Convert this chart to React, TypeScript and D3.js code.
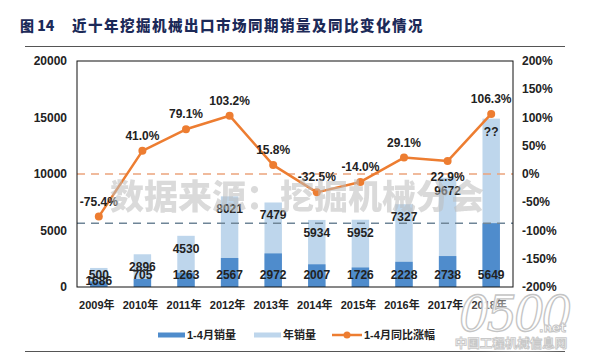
import React, {useEffect, useRef} from 'react';
import * as d3 from 'd3';

// chart data
const years: string[] = ["2009年", "2010年", "2011年", "2012年", "2013年", "2014年", "2015年", "2016年", "2017年", "2018年"];
const janAprSales: number[] = [500, 705, 1263, 2567, 2972, 2007, 1726, 2228, 2738, 5649];
// 2018 full year not known yet ("??"), bar height
const annualSales: number[] = [1686, 2896, 4530, 8021, 7479, 5934, 5952, 7327, 9672, 14900];
const annualLabels: string[] = ["1686", "2896", "4530", "8021", "7479", "5934", "5952", "7327", "9672", "??"];
const yoyGrowth: number[] = [-75.4, 41.0, 79.1, 103.2, 15.8, -32.5, -14.0, 29.1, 22.9, 106.3];
const leftTicks: number[] = [0, 5000, 10000, 15000, 20000];
const rightTicks: number[] = [-200, -150, -100, -50, 0, 50, 100, 150, 200];
const seriesNames: string[] = ["1-4月销量", "年销量", "1-4月同比涨幅"];
const titleNo = "图 14";
const titleText = "近十年挖掘机械出口市场同期销量及同比变化情况";
const sourceNote = "数据来源：挖掘机械分会";

const App = () => {
  const ref = useRef<SVGSVGElement | null>(null);

  useEffect(() => {
    drawChart();
    return () => {
      if (ref.current) d3.select(ref.current).selectAll("*").remove();
    };
  }, []);

  const drawChart = () => {
    const width = 590;
    const height = 362;
    const plot = {left: 77, right: 513, top: 61, bottom: 287};

    const darkBlue = "#4f8ccc";
    const lightBlue = "#bed6ec";
    const orange = "#ed7d31";
    const numFont = "'Liberation Sans', Arial, sans-serif";
    const cjkFont = "'Liberation Sans', 'Noto Sans CJK SC', sans-serif";

    const svg = d3.select(ref.current)
      .attr("width", width)
      .attr("height", height);

    svg.append("rect").attr("width", width).attr("height", height).attr("fill", "#fff");

    // blur for the site watermark glow
    svg.append("defs").append("filter")
      .attr("id", "glow").attr("x", "-30%").attr("y", "-30%").attr("width", "160%").attr("height", "160%")
      .append("feGaussianBlur").attr("stdDeviation", 6);

    // title + rules
    svg.append("text")
      .attr("x", 20).attr("y", 31)
      .attr("font-family", "'Noto Sans CJK SC', sans-serif")
      .attr("font-size", 14).attr("font-weight", 900)
      .attr("fill", "#1c2a58")
      .text(titleNo);
    svg.append("text")
      .attr("x", 72).attr("y", 31)
      .attr("font-family", "'Noto Sans CJK SC', sans-serif")
      .attr("font-size", 14.5).attr("font-weight", 900)
      .attr("letter-spacing", 1.5)
      .attr("fill", "#1c2a58")
      .text(titleText);
    svg.append("line").attr("x1", 25).attr("x2", 565).attr("y1", 46.5).attr("y2", 46.5)
      .attr("stroke", "#555").attr("stroke-width", 1);
    svg.append("line").attr("x1", 25).attr("x2", 565).attr("y1", 351.5).attr("y2", 351.5)
      .attr("stroke", "#555").attr("stroke-width", 1);

    // scales
    const x = d3.scaleBand<string>()
      .domain(years)
      .range([plot.left, plot.right])
      .paddingInner(0.6)
      .paddingOuter(0.3);
    const yLeft = d3.scaleLinear().domain([0, 20000]).range([plot.bottom, plot.top]);
    const yRight = d3.scaleLinear().domain([-200, 200]).range([plot.bottom, plot.top]);
    const cx = (d: string) => (x(d) as number) + x.bandwidth() / 2;

    const g = svg.append("g");

    // annual bars behind, Jan-Apr bars in front
    g.selectAll(".annual")
      .data(years)
      .enter().append("rect")
      .attr("class", "annual")
      .attr("x", d => x(d) as number)
      .attr("width", x.bandwidth())
      .attr("y", (d, i) => yLeft(annualSales[i]))
      .attr("height", (d, i) => yLeft(0) - yLeft(annualSales[i]))
      .attr("fill", lightBlue);

    g.selectAll(".janapr")
      .data(years)
      .enter().append("rect")
      .attr("class", "janapr")
      .attr("x", d => x(d) as number)
      .attr("width", x.bandwidth())
      .attr("y", (d, i) => yLeft(janAprSales[i]))
      .attr("height", (d, i) => yLeft(0) - yLeft(janAprSales[i]))
      .attr("fill", darkBlue);

    // reference lines (0% and 2018 Jan-Apr level)
    g.append("line")
      .attr("x1", plot.left).attr("x2", plot.right)
      .attr("y1", yRight(0)).attr("y2", yRight(0))
      .attr("stroke", "#eba47c").attr("stroke-width", 1.5)
      .attr("stroke-dasharray", "8,6");
    g.append("line")
      .attr("x1", plot.left).attr("x2", plot.right)
      .attr("y1", yLeft(janAprSales[9])).attr("y2", yLeft(janAprSales[9]))
      .attr("stroke", "#6f8597").attr("stroke-width", 1.5)
      .attr("stroke-dasharray", "8,6");

    // plot frame
    g.append("rect")
      .attr("x", plot.left).attr("y", plot.top)
      .attr("width", plot.right - plot.left).attr("height", plot.bottom - plot.top)
      .attr("fill", "none").attr("stroke", "#111").attr("stroke-width", 1);

    // bar value labels
    g.selectAll(".annualLabel")
      .data(years)
      .enter().append("text")
      .attr("x", d => cx(d))
      .attr("y", (d, i) => yLeft(annualSales[i]) + 17)
      .attr("text-anchor", "middle")
      .attr("font-family", numFont).attr("font-size", 12).attr("font-weight", "bold")
      .attr("fill", "#222")
      .text((d, i) => annualLabels[i]);

    g.selectAll(".janAprLabel")
      .data(years)
      .enter().append("text")
      .attr("x", d => cx(d))
      .attr("y", yLeft(0) - 8)
      .attr("text-anchor", "middle")
      .attr("font-family", numFont).attr("font-size", 12).attr("font-weight", "bold")
      .attr("fill", "#222")
      .text((d, i) => String(janAprSales[i]));

    // watermark from the source
    svg.append("text")
      .attr("x", 297).attr("y", 209)
      .attr("text-anchor", "middle")
      .attr("font-family", "'Noto Sans CJK SC', sans-serif")
      .attr("font-size", 34).attr("font-weight", 900)
      .attr("fill", "#bdbdbd").attr("opacity", 0.55)
      .text(sourceNote);

    // growth line
    const line = d3.line<number>()
      .x((d, i) => cx(years[i]))
      .y(d => yRight(d));
    g.append("path")
      .datum(yoyGrowth)
      .attr("d", line)
      .attr("fill", "none")
      .attr("stroke", orange)
      .attr("stroke-width", 2.5)
      .attr("stroke-linejoin", "round");
    g.selectAll(".dot")
      .data(yoyGrowth)
      .enter().append("circle")
      .attr("cx", (d, i) => cx(years[i]))
      .attr("cy", d => yRight(d))
      .attr("r", 4)
      .attr("fill", orange);

    const labelBelow = new Set(["2017年"]);
    g.selectAll(".growthLabel")
      .data(yoyGrowth)
      .enter().append("text")
      .attr("x", (d, i) => cx(years[i]))
      .attr("y", (d, i) => labelBelow.has(years[i]) ? yRight(d) + 20 : yRight(d) - 11)
      .attr("text-anchor", "middle")
      .attr("font-family", numFont).attr("font-size", 12).attr("font-weight", "bold")
      .attr("fill", "#222")
      .text(d => d.toFixed(1) + "%");

    // axes labels (no tick marks in the original)
    svg.selectAll(".lt")
      .data(leftTicks)
      .enter().append("text")
      .attr("x", 67)
      .attr("y", d => yLeft(d) + 4)
      .attr("text-anchor", "end")
      .attr("font-family", numFont).attr("font-size", 12).attr("font-weight", "bold")
      .attr("fill", "#222")
      .text(d => String(d));

    svg.selectAll(".rt")
      .data(rightTicks)
      .enter().append("text")
      .attr("x", 522)
      .attr("y", d => yRight(d) + 4)
      .attr("font-family", numFont).attr("font-size", 12).attr("font-weight", "bold")
      .attr("fill", "#222")
      .text(d => d + "%");

    svg.selectAll(".xt")
      .data(years)
      .enter().append("text")
      .attr("x", d => cx(d) - 2)
      .attr("y", 309)
      .attr("text-anchor", "middle")
      .attr("font-family", cjkFont).attr("font-size", 11).attr("font-weight", "bold")
      .attr("fill", "#222")
      .text(d => d);

    // legend
    const lg = svg.append("g").attr("font-family", cjkFont).attr("font-size", 11)
      .attr("font-weight", "bold").attr("fill", "#222");
    lg.append("rect").attr("x", 158).attr("y", 332.5).attr("width", 27).attr("height", 5).attr("fill", darkBlue);
    lg.append("text").attr("x", 187).attr("y", 339).text(seriesNames[0]);
    lg.append("rect").attr("x", 254).attr("y", 332.5).attr("width", 27).attr("height", 5).attr("fill", lightBlue);
    lg.append("text").attr("x", 283).attr("y", 339).text(seriesNames[1]);
    lg.append("line").attr("x1", 332).attr("x2", 362).attr("y1", 335).attr("y2", 335)
      .attr("stroke", orange).attr("stroke-width", 2.5);
    lg.append("circle").attr("cx", 347).attr("cy", 335).attr("r", 3.5).attr("fill", orange);
    lg.append("text").attr("x", 364).attr("y", 339).text(seriesNames[2]);

    // site watermark, bottom right
    const wm = svg.append("g");
    wm.append("ellipse")
      .attr("cx", 522).attr("cy", 324).attr("rx", 55).attr("ry", 28)
      .attr("fill", "#fff").attr("opacity", 0.55)
      .attr("filter", "url(#glow)");
    wm.append("text")
      .attr("x", 514).attr("y", 331)
      .attr("text-anchor", "middle")
      .attr("font-family", "'DejaVu Serif', serif").attr("font-style", "italic")
      .attr("font-size", 48)
      .attr("letter-spacing", -3)
      .attr("fill", "#fff").attr("fill-opacity", 0.9)
      .attr("stroke", "#c4c4c4").attr("stroke-width", 1.3)
      .text("0500");
    wm.append("text")
      .attr("x", 566).attr("y", 332)
      .attr("text-anchor", "end")
      .attr("font-family", "'DejaVu Sans', sans-serif").attr("font-weight", "bold")
      .attr("font-size", 12)
      .attr("fill", "#fff").attr("stroke", "#c4c4c4").attr("stroke-width", 0.9)
      .text(".net");
    wm.append("text")
      .attr("x", 511).attr("y", 348)
      .attr("text-anchor", "middle")
      .attr("font-family", "'Noto Sans CJK SC', sans-serif").attr("font-weight", "bold")
      .attr("font-size", 12.5)
      .attr("fill", "#fff").attr("stroke", "#c8c8c8").attr("stroke-width", 0.9)
      .text("中国工程机械信息网");
  };

  return (
    <div style={{position: "absolute", left: 0, top: 0}}>
      <svg ref={ref} style={{display: "block"}}></svg>
    </div>
  );
};

export default App;
